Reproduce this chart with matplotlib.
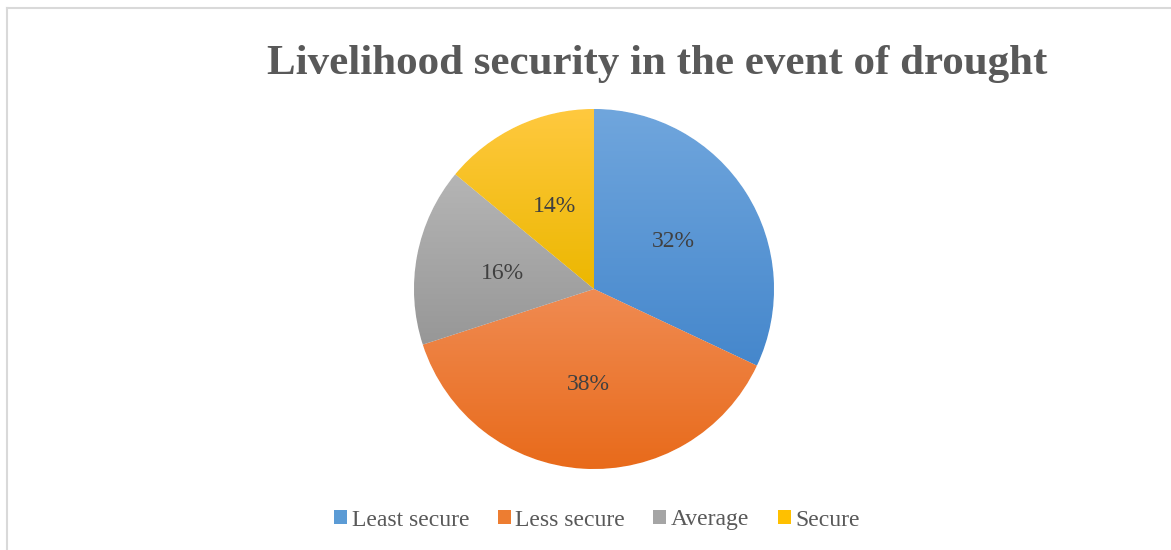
import numpy as np
import matplotlib.pyplot as plt
from matplotlib.patches import Patch
from matplotlib.lines import Line2D
from matplotlib.colors import LinearSegmentedColormap

labels = ['Least secure', 'Less secure', 'Average', 'Secure']
values = [32, 38, 16, 14]
top_colors = ['#70a6dd', '#f08b52', '#b5b5b5', '#ffc93f']
bottom_colors = ['#4587cc', '#e86a1a', '#979797', '#ecb700']
base_colors = ['#5b9bd5', '#ed7d31', '#a5a5a5', '#ffc000']

title = 'Livelihood security in the event of drought'

W, H = 1171, 550
fig = plt.figure(figsize=(W / 100, H / 100), dpi=100)

# pie axes: center (594, 289) px, radius 180 px
cx, cy, r, half = 594, 289, 180, 200
ax = fig.add_axes([(cx - half) / W, (H - cy - half) / H, 2 * half / W, 2 * half / H])
lim = half / r

wedges, texts, autotexts = ax.pie(
    values,
    colors=base_colors,
    startangle=90,
    counterclock=False,
    autopct='%d%%',
    pctdistance=0.52,
    wedgeprops={'linewidth': 0.8, 'edgecolor': 'white'},
    textprops={'fontsize': 17, 'color': '#404040', 'family': 'Liberation Serif'},
    frame=False,
)
ax.set_xlim(-lim, lim)
ax.set_ylim(-lim, lim)
ax.set_aspect('equal')
ax.axis('off')

# vertical gradient fill per wedge (lighter at top)
grad = np.linspace(0, 1, 256).reshape(-1, 1)
for w, c0, c1 in zip(wedges, top_colors, bottom_colors):
    verts = w.get_path().vertices
    x0, x1 = verts[:, 0].min(), verts[:, 0].max()
    y0, y1 = verts[:, 1].min(), verts[:, 1].max()
    cmap = LinearSegmentedColormap.from_list('g', [c0, c1])
    im = ax.imshow(grad, cmap=cmap, aspect='auto', extent=(x0, x1, y0, y1),
                   origin='upper', zorder=w.get_zorder() + 0.1)
    im.set_clip_path(w)
for t in autotexts:
    t.set_zorder(5)
    t.set_va('center_baseline')
ax.set_xlim(-lim, lim)
ax.set_ylim(-lim, lim)

fig.text(657 / W, 1 - 64 / H, title, ha='center', va='center',
         fontsize=31, fontweight='bold', color='#595959', family='Liberation Serif')

handles = [Patch(facecolor=c, edgecolor='none') for c in base_colors]
fig.legend(handles, labels, loc='center', bbox_to_anchor=(597 / W, 1 - 520 / H),
           ncol=4, frameon=False, handlelength=0.55, handleheight=0.55,
           handletextpad=0.2, columnspacing=1.2,
           prop={'family': 'Liberation Serif', 'size': 17},
           labelcolor='#595959')

# chart border (only top and left visible in crop)
fig.add_artist(Line2D([7 / W, 1], [1 - 7.5 / H, 1 - 7.5 / H], color='#d9d9d9', lw=1.5))
fig.add_artist(Line2D([7 / W, 7 / W], [0, 1 - 7.5 / H], color='#d9d9d9', lw=1.5))

fig.savefig('out.png', dpi=100)
